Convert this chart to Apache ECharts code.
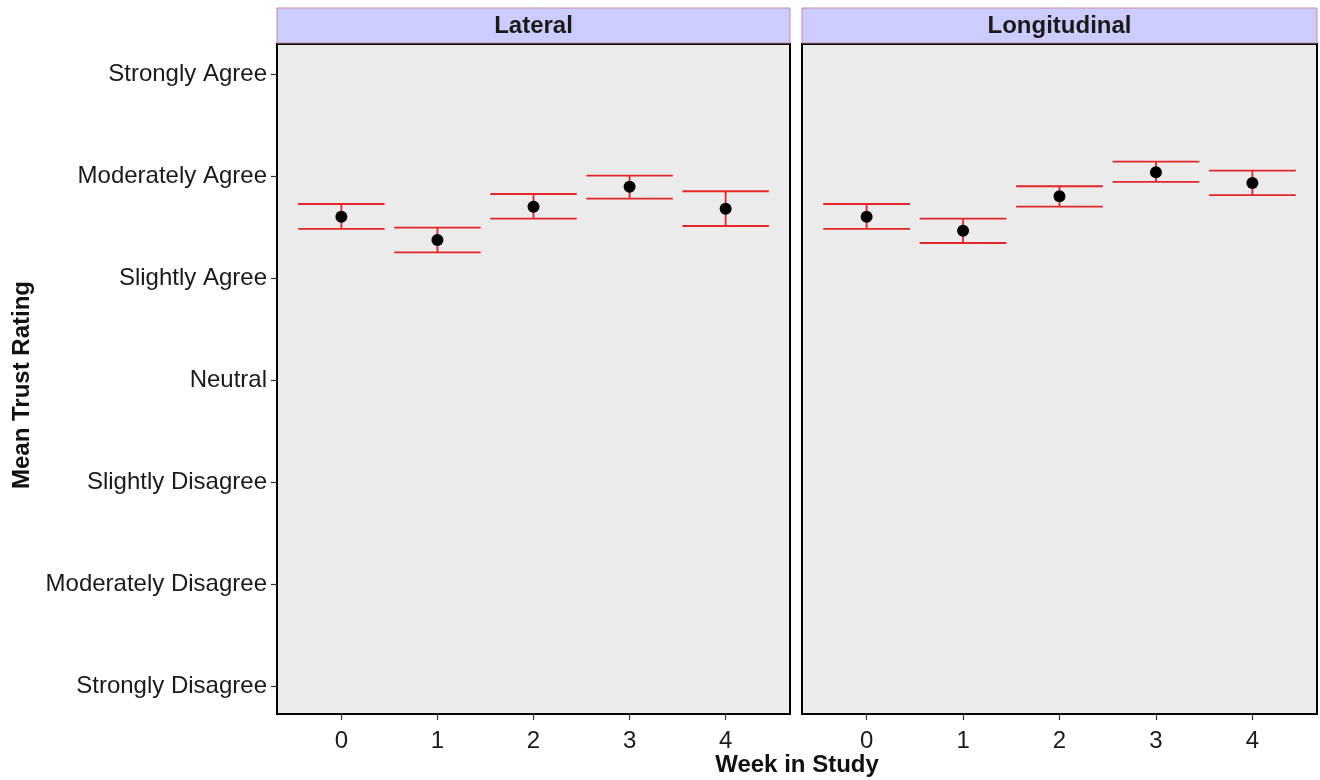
<!DOCTYPE html>
<html>
<head>
<meta charset="utf-8">
<script src="https://cdn.jsdelivr.net/npm/echarts@6/dist/echarts.min.js"></script>
<style>
html,body{margin:0;padding:0;background:#fff;}
#main{width:1320px;height:780px;}
</style>
</head>
<body>
<div id="main"></div>
<script>
const weeks = [0, 1, 2, 3, 4];
const yTickLabels = ["Strongly Disagree", "Moderately Disagree", "Slightly Disagree", "Neutral", "Slightly Agree", "Moderately Agree", "Strongly Agree"];
const panels = ["Lateral", "Longitudinal"];

const lateralMean  = [5.605, 5.377, 5.704, 5.900, 5.684];
const lateralLow   = [5.485, 5.256, 5.586, 5.782, 5.514];
const lateralHigh  = [5.730, 5.498, 5.828, 6.008, 5.855];

const longMean  = [5.605, 5.468, 5.806, 6.041, 5.936];
const longLow   = [5.485, 5.347, 5.704, 5.946, 5.816];
const longHigh  = [5.730, 5.586, 5.904, 6.145, 6.057];

const RED = '#E3262B';
const FONT = '"Liberation Sans", Arial, sans-serif';

function errData(low, high) { return weeks.map((w, i) => [w, low[i], high[i]]); }
function ptData(mean) { return weeks.map((w, i) => [w, mean[i]]); }

function renderErr(params, api) {
  const x = api.value(0), lo = api.value(1), hi = api.value(2);
  const pHi = api.coord([x, hi]);
  const pLo = api.coord([x, lo]);
  const half = api.size([0.45, 0])[0];
  const st = { stroke: RED, lineWidth: 1.8 };
  return {
    type: 'group',
    children: [
      { type: 'line', shape: { x1: pHi[0] - half, y1: pHi[1], x2: pHi[0] + half, y2: pHi[1] }, style: st },
      { type: 'line', shape: { x1: pLo[0] - half, y1: pLo[1], x2: pLo[0] + half, y2: pLo[1] }, style: st },
      { type: 'line', shape: { x1: pHi[0], y1: pHi[1], x2: pLo[0], y2: pLo[1] }, style: st }
    ]
  };
}

const grids = [
  { left: 277, width: 513, top: 44, height: 670 },
  { left: 802, width: 515, top: 44, height: 670 }
];

function xAx(i) {
  return {
    type: 'value', gridIndex: i, min: -0.67, max: 4.67, position: 'bottom',
    axisLine: { show: false, onZero: false },
    splitLine: { show: false },
    axisTick: { show: true, customValues: weeks, length: 6, lineStyle: { color: '#333', width: 1.2 } },
    axisLabel: { show: true, customValues: weeks, margin: 15, fontSize: 24, color: '#1A1A1A', fontFamily: FONT,
      formatter: v => String(v) }
  };
}
function yAx(i) {
  const show = i === 0;
  return {
    type: 'value', gridIndex: i, min: 0.725, max: 7.3, position: 'left',
    axisLine: { show: false, onZero: false },
    splitLine: { show: false },
    axisTick: { show: show, customValues: [1,2,3,4,5,6,7], length: 6, lineStyle: { color: '#333', width: 1.2 } },
    axisLabel: { show: show, customValues: [1,2,3,4,5,6,7], margin: 10, fontSize: 24, color: '#1A1A1A', fontFamily: FONT,
      formatter: v => yTickLabels[Math.round(v) - 1] }
  };
}

const chart = echarts.init(document.getElementById('main'), null, { renderer: 'canvas' });
chart.setOption({
  animation: false,
  backgroundColor: '#fff',
  grid: grids.map(g => Object.assign({ show: true, backgroundColor: '#EBEBEB', borderColor: '#000', borderWidth: 2 }, g)),
  xAxis: [xAx(0), xAx(1)],
  yAxis: [yAx(0), yAx(1)],
  graphic: [
    { type: 'rect', shape: { x: 277, y: 8, width: 513, height: 35 }, style: { fill: '#CCCCFF', stroke: '#C98A9A', lineWidth: 1 } },
    { type: 'rect', shape: { x: 802, y: 8, width: 515, height: 35 }, style: { fill: '#CCCCFF', stroke: '#C98A9A', lineWidth: 1 } },
    { type: 'text', x: 533.5, y: 26, style: { text: panels[0], font: 'bold 24px ' + FONT, fill: '#1A1A1A', align: 'center', verticalAlign: 'middle' } },
    { type: 'text', x: 1059.5, y: 26, style: { text: panels[1], font: 'bold 24px ' + FONT, fill: '#1A1A1A', align: 'center', verticalAlign: 'middle' } },
    { type: 'text', x: 797, y: 765, style: { text: 'Week in Study', font: 'bold 24px ' + FONT, fill: '#111', align: 'center', verticalAlign: 'middle' } },
    { type: 'text', x: 22, y: 385, rotation: Math.PI / 2, style: { text: 'Mean Trust Rating', font: 'bold 24px ' + FONT, fill: '#111', align: 'center', verticalAlign: 'middle' } }
  ],
  series: [
    { type: 'custom', xAxisIndex: 0, yAxisIndex: 0, renderItem: renderErr, data: errData(lateralLow, lateralHigh), z: 2 },
    { type: 'custom', xAxisIndex: 1, yAxisIndex: 1, renderItem: renderErr, data: errData(longLow, longHigh), z: 2 },
    { type: 'scatter', xAxisIndex: 0, yAxisIndex: 0, data: ptData(lateralMean), symbolSize: 12, itemStyle: { color: '#000', opacity: 1 }, z: 3 },
    { type: 'scatter', xAxisIndex: 1, yAxisIndex: 1, data: ptData(longMean), symbolSize: 12, itemStyle: { color: '#000', opacity: 1 }, z: 3 }
  ]
});
</script>
</body>
</html>
